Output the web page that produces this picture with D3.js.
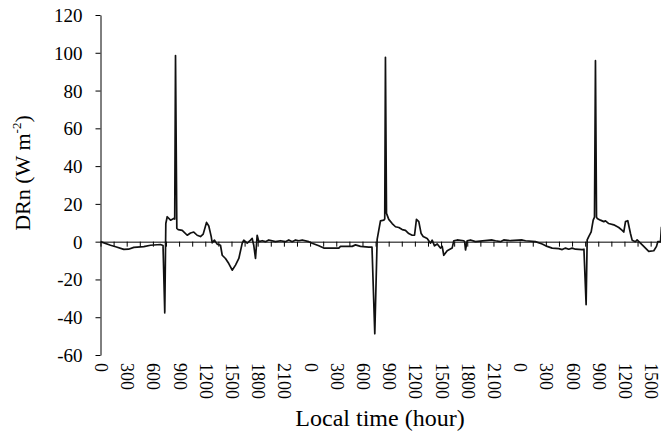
<!DOCTYPE html>
<html>
<head>
<meta charset="utf-8">
<script src="https://cdn.jsdelivr.net/npm/d3@7"></script>
<style>
  body { margin: 0; background: #fff; }
  svg { display: block; }
  svg text { font-family: "Liberation Serif", "Times New Roman", serif; fill: #000; }
</style>
</head>
<body>
<svg id="chart" width="661" height="445"></svg>
<script>
// Elapsed hours from the start of the record (3 days, local time)
const hours = [
  0, 1.15, 1.83, 2.67, 3.21, 3.81, 4.96, 5.73, 6.87, 7.16, 7.36, 7.48, 7.64, 8.02, 8.39, 8.50, 8.59, 8.74, 8.90,
  9.36, 9.93, 10.31, 10.68, 11.07, 11.45, 11.76, 12.14, 12.40, 12.68, 12.79, 13.05, 13.36, 13.74, 13.94, 14.31,
  14.69, 15.08, 15.46, 15.84, 16.23, 16.41, 16.80, 17.18, 17.37, 17.55, 17.75, 17.94, 18.13, 18.52, 18.89, 19.27,
  20.04, 20.61, 21.18, 21.56, 21.95, 22.33, 22.71, 23.10, 23.85, 24.24, 25.00, 25.57, 27.29, 27.48, 28.82, 29.20,
  29.77, 30.72, 31.09, 31.41, 31.68, 31.87, 32.06, 32.44, 32.55, 32.63, 32.75, 33.01, 33.40, 33.78, 34.16, 34.55,
  34.92, 35.30, 35.69, 35.96, 36.18, 36.45, 36.72, 36.95, 37.41, 37.79, 37.98, 38.25, 38.56, 38.93, 39.13, 39.31,
  39.70, 40.27, 40.46, 40.85, 41.60, 41.70, 41.80, 41.99, 42.37, 42.94, 44.85, 45.23, 45.80, 46.18, 46.95, 48.29,
  48.67, 49.81, 50.58, 51.15, 51.72, 52.48, 52.87, 53.25, 53.62, 54.01, 54.39, 55.16, 55.36, 55.61, 55.73, 55.91,
  56.19, 56.42, 56.57, 56.68, 56.80, 56.88, 57.25, 57.63, 57.83, 58.20, 58.78, 59.35, 59.74, 59.92, 60.12, 60.38,
  60.69, 60.88, 61.26, 61.45, 61.83, 62.21, 62.78, 63.36, 63.67, 63.82, 64.13, 64.24
];
// DRn (W m-2)
const drn = [
  0, -1.9, -2.8, -4.1, -4.0, -3.0, -2.6, -1.9, -1.5, -2.0, -37.7, 9.6, 13.2, 11.4, 12.3, 12.0, 98.5, 7.0, 6.4,
  6.0, 3.4, 4.6, 5.1, 3.4, 2.7, 4.0, 10.2, 8.3, 2.7, -0.6, 0.8, -1.3, -1.9, -7.2, -8.9,
  -11.6, -15.1, -12.4, -8.9, -0.8, 0.8, -0.8, 0.8, 1.7, -1.9, -8.9, 3.4, 0, 0.5, 0, 0.9,
  0, 0.5, 0, 0.9, 0, 0.9, 0.5, 0.9, 0, -0.8, -2.2, -3.4, -3.4, -2.5, -2.5, -1.7,
  -2.5, -2.9, -2.9, -48.8, 1.2, 6.1, 11.0, 11.4, 12.0, 97.6, 15.0, 11.8, 9.6, 7.9, 7.5, 6.4,
  6.0, 4.3, 3.4, 3.4, 11.8, 10.6, 4.3, 2.7, 1.7, -0.8, 0.8, -2.2, -1.2, -3.4, -2.5, -7.2,
  -4.8, -3.4, 0.5, 0.9, 0.5, 0, -4.4, 0.5, 0.9, 0, 0.9, 0.5, 0, 0.9, 0.5, 0.9,
  0.5, 0, -1.2, -2.5, -3.4, -3.7, -4.2, -3.4, -4.0, -3.4, -4.0, -4.2, -4.0, -33.4, 0.9, 2.7,
  5.2, 11.4, 13.0, 95.8, 13.0, 12.3, 11.4, 10.6, 11.0, 9.6, 8.9, 7.5, 6.0, 5.1, 10.6, 11.1,
  4.3, 0.8, 0, 0.9, -0.8, -2.5, -5.1, -4.8, -2.5, 0, 0, 7.9
];
const xLabelHours = [0, 3, 6, 9, 12, 15, 18, 21, 24, 27, 30, 33, 36, 39, 42, 45, 48, 51, 54, 57, 60, 63];
const xLabels = ["0","300","600","900","1200","1500","1800","2100",
                 "0","300","600","900","1200","1500","1800","2100",
                 "0","300","600","900","1200","1500"];
const xTickHours = d3.range(0, 64.3, 1.5);
const yTicks = [-60, -40, -20, 0, 20, 40, 60, 80, 100, 120];

const FONT = '"Liberation Serif", "Times New Roman", serif';
const svg = d3.select("#chart");
const x = d3.scaleLinear().domain([0, 64.3]).range([100.5, 662]);
const y = d3.scaleLinear().domain([-60, 120]).range([355, 15]);

// Y axis
const yAxis = svg.append("g")
  .attr("transform", "translate(100.5,0)")
  .call(d3.axisLeft(y).tickValues(yTicks).tickSize(5).tickSizeOuter(0).tickFormat(d => String(d)));
yAxis.attr("font-family", FONT).attr("font-size", 19);
yAxis.selectAll("text").attr("font-size", 19).attr("x", -18).attr("dy", "0.34em");
yAxis.selectAll("line, path").attr("stroke", "#000").attr("stroke-width", 1);

// Zero line with ticks
const xAxis = svg.append("g")
  .attr("transform", `translate(0,${y(0)})`)
  .call(d3.axisBottom(x).tickValues(xTickHours).tickSize(5).tickSizeOuter(0).tickFormat(""));
xAxis.selectAll("line, path").attr("stroke", "#000").attr("stroke-width", 1);

// X labels (rotated)
const xLab = svg.append("g")
  .attr("transform", "translate(0,363)")
  .call(d3.axisBottom(x).tickValues(xLabelHours).tickSize(0).tickFormat((d, i) => xLabels[i]));
xLab.attr("font-family", FONT).attr("font-size", 18);
xLab.select(".domain").remove();
xLab.selectAll("text")
  .attr("font-size", 18)
  .attr("text-anchor", "start")
  .attr("transform", "rotate(90)")
  .attr("x", 0).attr("y", 0).attr("dy", "0.33em");

// Line
const data = hours.map((h, i) => [h, drn[i]]);
svg.append("path")
  .datum(data)
  .attr("fill", "none")
  .attr("stroke", "#111")
  .attr("stroke-width", 1.7)
  .attr("stroke-linejoin", "round")
  .attr("d", d3.line().x(d => x(d[0])).y(d => y(d[1])));

// Titles
svg.append("text")
  .attr("x", 380).attr("y", 426)
  .attr("text-anchor", "middle")
  .attr("font-family", FONT)
  .attr("font-size", 24)
  .text("Local time (hour)");

const yt = svg.append("text")
  .attr("transform", "translate(30,173) rotate(-90)")
  .attr("text-anchor", "middle")
  .attr("font-family", FONT)
  .attr("font-size", 22);
yt.append("tspan").text("DRn (W m");
yt.append("tspan").attr("font-size", 13).attr("dy", -9).text("-2");
yt.append("tspan").attr("dy", 9).text(")");
</script>
</body>
</html>
